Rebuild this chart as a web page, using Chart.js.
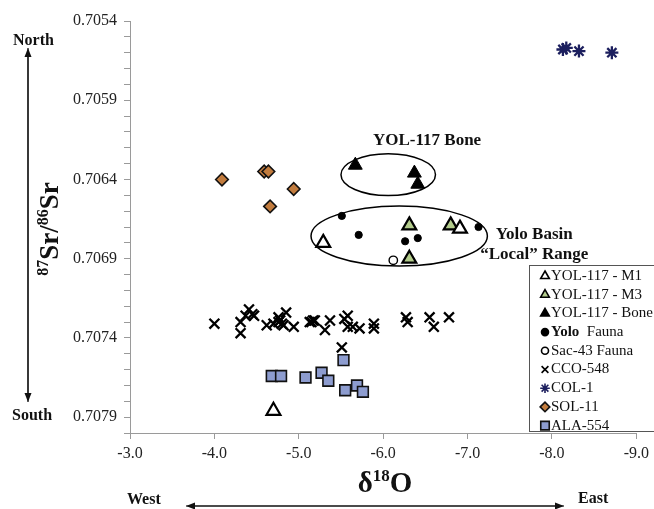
<!DOCTYPE html>
<html>
<head>
<meta charset="utf-8">
<script src="https://cdn.jsdelivr.net/npm/chart.js@4.4.0/dist/chart.umd.min.js"></script>
<style>
  body { margin: 0; background: #fff; }
  #wrap { width: 654px; height: 509px; }
</style>
</head>
<body>
<div id="wrap"><canvas id="chart" width="654" height="509"></canvas></div>
<script>
// --- Data (d18O, 87Sr/86Sr) ---
const m1X = [-5.29, -6.91, -4.70];
const m1Y = [0.70680, 0.70671, 0.70786];
const m3X = [-6.31, -6.80, -6.31];
const m3Y = [0.70669, 0.70669, 0.70690];
const boneX = [-5.67, -6.37, -6.41];
const boneY = [0.70631, 0.70636, 0.70643];
const yoloX = [-5.51, -5.71, -6.26, -6.41, -7.13];
const yoloY = [0.70663, 0.70675, 0.70679, 0.70677, 0.70670];
const sacX = [-6.12];
const sacY = [0.70691];
const ccoX = [-4.00, -4.31, -4.31, -4.41, -4.45, -4.37, -4.47, -4.62, -4.70, -4.76, -4.76, -4.78, -4.80, -4.82, -4.85, -4.94,
              -5.13, -5.15, -5.17, -5.19, -5.31, -5.37, -5.54, -5.58, -5.58, -5.64, -5.72, -5.89, -5.89, -6.27, -6.29,
              -6.55, -6.60, -6.78, -5.51];
const ccoY = [0.70731, 0.70730, 0.70737, 0.70722, 0.70725, 0.70726, 0.70726, 0.70732, 0.70731, 0.70727, 0.70730, 0.70729, 0.70731, 0.70732, 0.70724, 0.70733,
              0.70730, 0.70730, 0.70729, 0.70729, 0.70735, 0.70729, 0.70728, 0.70726, 0.70733, 0.70733, 0.70734, 0.70731, 0.70734, 0.70727, 0.70730,
              0.70727, 0.70733, 0.70727, 0.70746];
const colX = [-8.13, -8.17, -8.32, -8.71];
const colY = [0.70558, 0.70557, 0.70559, 0.70560];
const solX = [-4.09, -4.59, -4.64, -4.94, -4.66];
const solY = [0.70640, 0.70635, 0.70635, 0.70646, 0.70657];
const alaX = [-4.68, -4.79, -5.08, -5.27, -5.35, -5.53, -5.55, -5.69, -5.76];
const alaY = [0.70764, 0.70764, 0.70765, 0.70762, 0.70767, 0.70754, 0.70773, 0.70770, 0.70774];

const xTicks = [-3, -4, -5, -6, -7, -8, -9];
const yMajorStart = 0.7054;

// annotation ellipses in data units: [cx, cy, rx, ry]
const boneEllipse = [-6.06, 0.70637, 0.56, 0.000132];
const yoloEllipse = [-6.19, 0.706757, 1.045, 0.000189];

function pts(xs, ys) {
    return xs.map((x, i) => ({ x: x, y: ys[i] }));
}

Chart.defaults.font.family = "'Liberation Serif', 'DejaVu Serif', serif";
Chart.defaults.color = '#222';

const SERIF = "'Liberation Serif', serif";

const datasets = [
    { label: 'YOL-117 - M1', data: pts(m1X, m1Y), pointStyle: 'triangle', pointRadius: 8,
      backgroundColor: '#fff', borderColor: '#000', borderWidth: 2.2 },
    { label: 'YOL-117 - M3', data: pts(m3X, m3Y), pointStyle: 'triangle', pointRadius: 8,
      backgroundColor: '#b3cc8c', borderColor: '#000', borderWidth: 2.2 },
    { label: 'YOL-117 - Bone', data: pts(boneX, boneY), pointStyle: 'triangle', pointRadius: 8,
      backgroundColor: '#000', borderColor: '#000', borderWidth: 1 },
    { label: 'Yolo Fauna', data: pts(yoloX, yoloY), pointStyle: 'circle', pointRadius: 3.6,
      backgroundColor: '#000', borderColor: '#000', borderWidth: 1 },
    { label: 'Sac-43 Fauna', data: pts(sacX, sacY), pointStyle: 'circle', pointRadius: 4.2,
      backgroundColor: '#fff', borderColor: '#000', borderWidth: 1.4 },
    { label: 'CCO-548', data: pts(ccoX, ccoY), pointStyle: 'crossRot', pointRadius: 7,
      backgroundColor: '#000', borderColor: '#000', borderWidth: 2.3 },
    { label: 'COL-1', data: pts(colX, colY), pointStyle: 'star', pointRadius: 6.5,
      backgroundColor: '#1c1f5e', borderColor: '#1c1f5e', borderWidth: 2.3 },
    { label: 'SOL-11', data: pts(solX, solY), pointStyle: 'rectRot', pointRadius: 6.3,
      backgroundColor: '#c27c3e', borderColor: '#111', borderWidth: 1.6 },
    { label: 'ALA-554', data: pts(alaX, alaY), pointStyle: 'rect', pointRadius: 7.6,
      backgroundColor: '#8d9ccf', borderColor: '#111', borderWidth: 1.6 }
];

// --- Annotations: ellipses, labels, axis titles, compass arrows, legend ---
function arrow(ctx, x1, y1, x2, y2) {
    ctx.beginPath();
    ctx.moveTo(x1, y1);
    ctx.lineTo(x2, y2);
    ctx.stroke();
    const a = Math.atan2(y2 - y1, x2 - x1);
    ctx.beginPath();
    ctx.moveTo(x2, y2);
    ctx.lineTo(x2 - 9 * Math.cos(a) + 3.5 * Math.sin(a), y2 - 9 * Math.sin(a) - 3.5 * Math.cos(a));
    ctx.lineTo(x2 - 9 * Math.cos(a) - 3.5 * Math.sin(a), y2 - 9 * Math.sin(a) + 3.5 * Math.cos(a));
    ctx.closePath();
    ctx.fill();
}

const extras = {
    id: 'extras',
    afterDatasetsDraw(chart) {
        const ctx = chart.ctx;
        const xs = chart.scales.x, ys = chart.scales.y;
        ctx.save();
        ctx.strokeStyle = '#000';
        ctx.lineWidth = 1.5;
        [boneEllipse, yoloEllipse].forEach(e => {
            const cx = xs.getPixelForValue(e[0]);
            const cy = ys.getPixelForValue(e[1]);
            const rx = Math.abs(xs.getPixelForValue(e[0] + e[2]) - cx);
            const ry = Math.abs(ys.getPixelForValue(e[1] + e[3]) - cy);
            ctx.beginPath();
            ctx.ellipse(cx, cy, rx, ry, 0, 0, Math.PI * 2);
            ctx.stroke();
        });

        ctx.fillStyle = '#111';
        ctx.font = 'bold 17px ' + SERIF;
        ctx.textAlign = 'center';
        ctx.textBaseline = 'middle';
        ctx.fillText('YOL-117 Bone', xs.getPixelForValue(-6.52), ys.getPixelForValue(0.706155));
        ctx.fillText('Yolo Basin', xs.getPixelForValue(-7.79), ys.getPixelForValue(0.706747));
        ctx.fillText('\u201CLocal\u201D Range', xs.getPixelForValue(-7.79), ys.getPixelForValue(0.706877));
        ctx.restore();
    },
    afterDraw(chart) {
        const ctx = chart.ctx;
        const area = chart.chartArea;
        ctx.save();
        ctx.fillStyle = '#111';
        ctx.strokeStyle = '#111';
        ctx.lineWidth = 1.2;

        // compass labels and arrows
        ctx.font = 'bold 16px ' + SERIF;
        ctx.textBaseline = 'middle';
        ctx.textAlign = 'left';
        ctx.fillText('North', 13, 41);
        ctx.fillText('South', 12, 416);
        ctx.fillText('West', 127, 500);
        ctx.fillText('East', 578, 499);
        arrow(ctx, 28, 400, 28, 48);
        arrow(ctx, 28, 52, 28, 402);
        arrow(ctx, 560, 506, 186, 506);
        arrow(ctx, 190, 506, 564, 506);

        // y-axis title 87Sr/86Sr
        ctx.save();
        ctx.translate(58, (area.top + area.bottom) / 2 + 2);
        ctx.rotate(-Math.PI / 2);
        const parts = [['87', true], ['Sr/', false], ['86', true], ['Sr', false]];
        let w = 0;
        parts.forEach(p => {
            ctx.font = p[1] ? 'bold 16px ' + SERIF : 'bold 27px ' + SERIF;
            w += ctx.measureText(p[0]).width;
        });
        let px = -w / 2;
        ctx.textAlign = 'left';
        ctx.textBaseline = 'alphabetic';
        parts.forEach(p => {
            ctx.font = p[1] ? 'bold 16px ' + SERIF : 'bold 27px ' + SERIF;
            ctx.fillText(p[0], px, p[1] ? -10 : 0);
            px += ctx.measureText(p[0]).width;
        });
        ctx.restore();

        // x-axis title d18O
        const xparts = [['\u03B4', false], ['18', true], ['O', false]];
        let xw = 0;
        xparts.forEach(p => {
            ctx.font = p[1] ? 'bold 17px ' + SERIF : 'bold 29px ' + SERIF;
            xw += ctx.measureText(p[0]).width;
        });
        let qx = 385 - xw / 2;
        ctx.textAlign = 'left';
        ctx.textBaseline = 'alphabetic';
        xparts.forEach(p => {
            ctx.font = p[1] ? 'bold 17px ' + SERIF : 'bold 29px ' + SERIF;
            ctx.fillText(p[0], qx, p[1] ? 481 : 492);
            qx += ctx.measureText(p[0]).width;
        });

        // legend box
        ctx.fillStyle = '#fff';
        ctx.fillRect(529.5, 265.5, 140, 166);
        ctx.strokeStyle = '#555';
        ctx.lineWidth = 1;
        ctx.strokeRect(529.5, 265.5, 140, 166);
        chart.data.datasets.forEach((ds, i) => {
            const y = 276 + i * 18.7;
            ctx.fillStyle = ds.backgroundColor;
            ctx.strokeStyle = ds.borderColor;
            ctx.lineWidth = 1.6;
            let r = ds.pointStyle === 'triangle' ? 5 : ds.pointStyle === 'rect' ? 6 : ds.pointStyle === 'circle' ? 3.5 : 4.8;
            Chart.helpers.drawPoint(ctx, { pointStyle: ds.pointStyle, radius: r, rotation: 0, borderWidth: ctx.lineWidth }, 545, y);
            ctx.fillStyle = '#111';
            ctx.textBaseline = 'middle';
            ctx.textAlign = 'left';
            if (ds.label === 'Yolo Fauna') {
                ctx.font = 'bold 15px ' + SERIF;
                ctx.fillText('Yolo', 551, y);
                const bw = ctx.measureText('Yolo ').width;
                ctx.font = '15px ' + SERIF;
                ctx.fillText(' Fauna', 551 + bw, y);
            } else {
                ctx.font = '15px ' + SERIF;
                ctx.fillText(ds.label, 551, y);
            }
        });
        ctx.restore();
    }
};

new Chart(document.getElementById('chart'), {
    type: 'scatter',
    data: { datasets: datasets },
    options: {
        responsive: false,
        animation: false,
        events: [],
        layout: { padding: { left: 60, top: 21, right: 13, bottom: 36 } },
        plugins: {
            legend: { display: false },
            tooltip: { enabled: false }
        },
        scales: {
            x: {
                type: 'linear',
                min: -9,
                max: -3,
                reverse: true,
                afterFit: s => { s.height = 40; },
                afterBuildTicks: s => { s.ticks = xTicks.map(v => ({ value: v })); },
                ticks: {
                    font: { size: 16 },
                    color: '#222',
                    padding: 5,
                    callback: v => v.toFixed(1)
                },
                grid: { drawOnChartArea: false, drawTicks: true, tickLength: 6, color: '#9a9a9a' },
                border: { color: '#9a9a9a', width: 1 }
            },
            y: {
                type: 'linear',
                min: 0.7054,
                max: 0.7080,
                reverse: true,
                afterFit: s => { s.width = 70; },
                ticks: {
                    stepSize: 0.0001,
                    autoSkip: false,
                    font: { size: 16 },
                    color: '#222',
                    padding: 7,
                    callback: v => {
                        const k = Math.round((v - yMajorStart) / 0.0001);
                        return k % 5 === 0 && k < 26 ? v.toFixed(4) : '';
                    }
                },
                grid: { drawOnChartArea: false, drawTicks: true, tickLength: 6, color: '#9a9a9a' },
                border: { color: '#9a9a9a', width: 1 }
            }
        }
    },
    plugins: [extras]
});
</script>
</body>
</html>
